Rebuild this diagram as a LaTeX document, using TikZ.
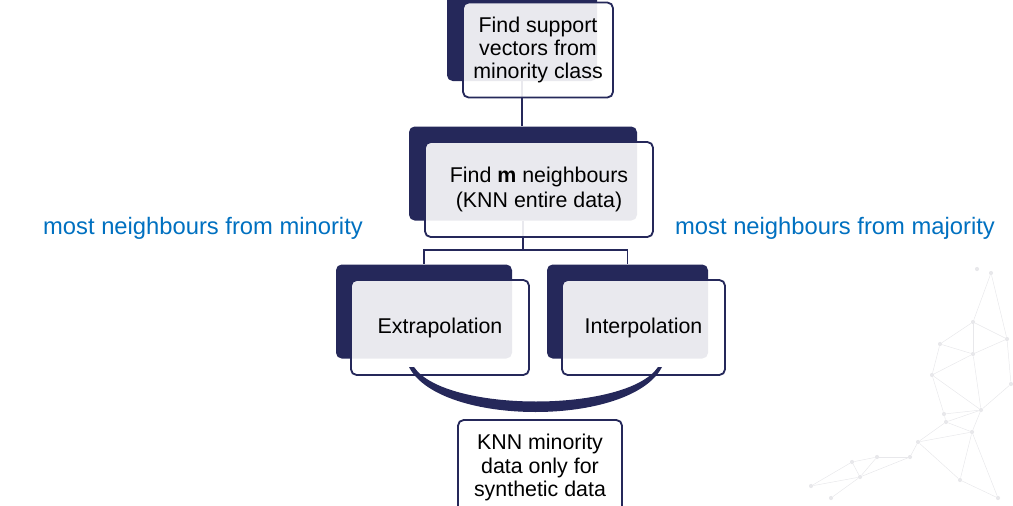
\documentclass[tikz,border=0pt]{standalone}
\usepackage{fontspec}
\setmainfont{Liberation Sans}
\definecolor{navy}{RGB}{37,40,90}
\definecolor{sideblue}{RGB}{0,112,192}
\definecolor{netgray}{RGB}{232,232,235}
\begin{document}
\begin{tikzpicture}[x=0.025cm,y=-0.025cm,
        backbox/.style={fill=navy,rounded corners=4pt,inner sep=0pt,minimum height=94*0.025cm},
        frontbox/.style={draw=navy,line width=1.3pt,fill=white,fill opacity=0.9,text opacity=1,rounded corners=4pt,inner sep=0pt,minimum height=95*0.025cm,align=center,font=\fontsize{15.2}{16.4}\selectfont},
        sidetext/.style={text=sideblue,font=\fontsize{16.9}{20}\selectfont},
        link/.style={draw=navy,line width=1.3pt},
        netline/.style={draw=netgray,line width=0.35pt},
        netdot/.style={circle,fill=netgray,inner sep=0pt,minimum size=3pt}]
        \useasboundingbox (0,0) rectangle (1013,506);
        \clip (0,0) rectangle (1013,506);
        % faint network in the corner
        \foreach \n/\x/\y in {p1/977/269,p2/991/273,p3/973/322,p4/1007/339,p5/940/344,p6/973/354,p7/932/375,p8/1011/384,p9/981/410,p10/944/414,p11/946/422,p12/972/432,p13/918/442,p14/877/457,p15/910/457,p16/852/462,p17/860/477,p18/960/480,p19/811/486,p20/831/498,p21/998/498}{
            \node[netdot] (\n) at (\x,\y) {};
        }
        \foreach \m/\n in {p2/p4,p2/p3,p3/p4,p3/p5,p3/p6,p5/p6,p4/p6,p5/p7,p6/p7,p6/p9,p4/p8,p7/p9,p7/p10,p10/p9,p11/p9,p10/p11,p11/p12,p12/p9,p9/p8,p12/p13,p11/p13,p13/p15,p15/p14,p14/p16,p14/p17,p16/p17,p15/p17,p13/p18,p12/p18,p17/p19,p17/p20,p18/p21,p12/p21,p19/p16}{
            \draw[netline] (\m) -- (\n);
        }
        % dark blocks behind
        \foreach \n/\x/\y/\w in {sv/522/34/150,knn/523/173.5/228,extra/424/311.5/176,inter/627.5/311.5/161}{
            \node[backbox,minimum width=\w*0.025cm] (\n-back) at (\x,\y) {};
        }
        \draw[link] (sv-back.south) -- (sv-back.south |- knn-back.north);
        \draw[link] (knn-back.south) -- ++(0,29) coordinate (fork) -| (extra-back.north);
        \draw[link] (fork) -| (inter-back.north);
        % boxes in front
        \foreach \n/\x/\y/\w/\t in {sv/538/50/150/{Find support\\vectors from\\minority class},knn/539/189.5/228/{Find \textbf{m} neighbours\\[1.4pt](KNN entire data)},extra/440/327.5/178/{Extrapolation},inter/643.5/327.5/163/{Interpolation},syn/540/467.5/164/{KNN minority\\data only for\\synthetic data}}{
            \node[frontbox,minimum width=\w*0.025cm] (\n) at (\x,\y) {\t};
        }
        \fill[navy] (414,367) .. controls (445,413) and (627,413) .. (658,367) -- (662,367)
            .. controls (631,427) and (440,427) .. (409,367) -- cycle;
        \node[sidetext] (minor) at (203,228) {most neighbours from minority};
        \node[sidetext] (major) at (835,228) {most neighbours from majority};
    \end{tikzpicture}
\end{document}
